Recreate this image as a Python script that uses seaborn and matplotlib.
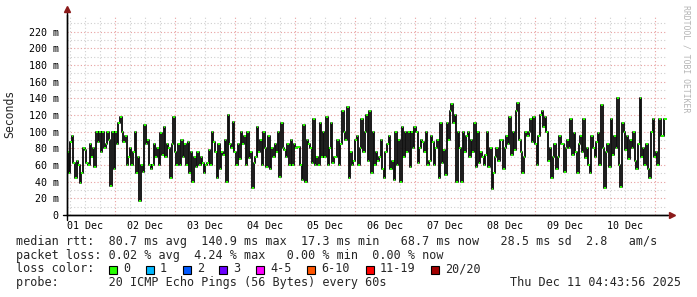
import numpy as np
import pandas as pd
import matplotlib
matplotlib.use("Agg")
import matplotlib.pyplot as plt
from matplotlib.patches import Rectangle
import seaborn as sns

# ---- data (median rtt in ms, evenly spaced over the 10 days) ----
rtt_part1 = [75, 50, 88, 95, 62, 45, 65, 60, 38, 50, 80, 78, 62, 60, 85, 70, 80, 58, 100, 88,
             100, 75, 100, 80, 85, 100, 90, 35, 100, 55, 100, 85, 110, 118, 100, 88, 95, 60, 70, 80,
             60, 75, 100, 50, 70, 17.3, 60, 52, 108, 85, 90, 60, 55, 60, 85, 70, 80, 60, 98, 72,
             105, 70, 85]
rtt_part2 = [80, 45, 85, 118, 75, 60, 85, 60, 90, 70, 85, 60, 88, 50, 75, 40, 70, 58, 75, 60,
             70, 62, 50, 60, 62, 78, 60, 100, 88, 75, 45, 85, 55, 75, 72, 90, 40, 120, 85, 80,
             112, 75, 60, 85, 67, 100, 85, 95, 60, 100, 68, 75, 32, 62, 70, 105, 75, 90, 60, 100,
             80, 58]
rtt_part3 = [95, 55, 80, 70, 85, 75, 100, 46, 110, 80, 78, 70, 85, 60, 90, 60, 85, 80, 82, 82,
             60, 42, 108, 40, 90, 85, 80, 62, 115, 60, 70, 60, 110, 70, 100, 70, 117, 60, 80, 110,
             62, 70, 70, 90, 60, 85, 125, 100, 90, 130, 45, 75, 60, 65, 90, 95, 60, 80, 115, 75,
             100, 120]
rtt_part4 = [65, 125, 50, 100, 60, 75, 65, 70, 90, 55, 45, 75, 85, 95, 55, 65, 42, 100, 60, 90,
             40, 105, 70, 100, 75, 100, 58, 100, 80, 105, 100, 62, 80, 90, 88, 75, 100, 60, 65, 95,
             88, 60, 80, 90, 45, 110, 62, 78, 48, 110, 90, 125, 133, 110, 120, 40, 100, 80, 40, 100,
             75, 95]
rtt_part5 = [100, 70, 90, 75, 110, 58, 100, 62, 75, 70, 60, 72, 100, 58, 80, 31, 50, 70, 80, 65,
             90, 90, 55, 80, 95, 85, 118, 72, 100, 78, 125, 134, 90, 75, 50, 70, 100, 95, 100, 115,
             88, 118, 85, 60, 95, 120, 125, 105, 118, 100, 65, 80, 45, 70, 85, 55, 70, 95, 85, 85,
             52, 80]
rtt_part6 = [90, 80, 115, 72, 98, 75, 50, 85, 95, 75, 115, 68, 80, 60, 50, 95, 80, 70, 88, 98,
             60, 132, 80, 33, 75, 85, 58, 115, 72, 95, 80, 140.9, 60, 34, 110, 100, 78, 95, 67, 90,
             80, 100, 65, 55, 85, 140, 70, 80, 60, 85, 55, 45, 100, 115, 70, 75, 60, 115, 95, 95,
             115, 115]
rtt = rtt_part1 + rtt_part2 + rtt_part3 + rtt_part4 + rtt_part5 + rtt_part6

day_labels = ["01 Dec", "02 Dec", "03 Dec", "04 Dec", "05 Dec",
              "06 Dec", "07 Dec", "08 Dec", "09 Dec", "10 Dec"]
y_ticks_ms = [0, 20, 40, 60, 80, 100, 120, 140, 160, 180, 200, 220]

loss_labels = ["0", "1", "2", "3", "4-5", "6-10", "11-19", "20/20"]
loss_colors = ["#26ff00", "#00b8ff", "#0059ff", "#6a00ff", "#ff00ff", "#ff5500", "#ff0000", "#a10000"]

line_rtt = "median rtt:  80.7 ms avg  140.9 ms max  17.3 ms min   68.7 ms now   28.5 ms sd  2.8   am/s"
line_loss = "packet loss: 0.02 % avg  4.24 % max   0.00 % min  0.00 % now"
line_probe = "probe:       20 ICMP Echo Pings (56 Bytes) every 60s"
stamp = "Thu Dec 11 04:43:56 2025"

# ---- figure ----
sns.set_style("white")
plt.rcParams["font.family"] = ["DejaVu Sans Mono"]
W, H = 697, 297
fig = plt.figure(figsize=(W / 100, H / 100), dpi=100)
fig.patch.set_facecolor("white")
ax = fig.add_axes([67 / W, 82 / H, 600 / W, 200 / H])

start_h = 4 + 43 / 60 + 56 / 3600  # hours after 01 Dec 00:00
end_h = start_h + 240
n = len(rtt)
dt = (end_h - start_h) / n
df = pd.DataFrame({"hours": start_h + np.arange(n) * dt, "rtt": rtt})

# grid
for h in range(0, 250, 6):
    if start_h <= h <= end_h:
        major = h % 24 == 0
        ax.axvline(h, color="#e8a0a0" if major else "#cfcfcf", ls=(0, (1, 2)), lw=0.8, zorder=0)
for v in range(10, 240, 10):
    major = v % 20 == 0
    ax.axhline(v, color="#e8a0a0" if major else "#cfcfcf", ls=(0, (1, 2)), lw=0.8, zorder=0)

sns.lineplot(data=df, x="hours", y="rtt", drawstyle="steps-post", estimator=None,
             color="#111111", lw=1.35, ax=ax, zorder=3)
ax.hlines(df["rtt"], df["hours"], df["hours"] + dt, color="#26ff00", lw=1.4, zorder=4)

ax.set_xlim(start_h, end_h)
ax.set_ylim(0, 240)
ax.set_xlabel("")
ax.set_ylabel("")
ax.set_xticks([12 + 24 * k for k in range(len(day_labels))])
ax.set_xticklabels(day_labels)
ax.set_yticks(y_ticks_ms)
ax.set_yticklabels([("%d m" % v) if v else "0" for v in y_ticks_ms])
ax.tick_params(axis="x", length=0, pad=4.5, labelsize=7.2, colors="black")
ax.tick_params(axis="y", length=3, width=0.8, color="#666666", pad=3, labelsize=7.2, labelcolor="black")

for s in ["top", "right"]:
    ax.spines[s].set_visible(False)
for s in ["left", "bottom"]:
    ax.spines[s].set_color("black")
    ax.spines[s].set_linewidth(1.0)
    ax.spines[s].set_zorder(5)

# axis extensions and arrows
ax.plot([-0.007, 1.006], [0, 0], color="black", lw=1, transform=ax.transAxes, clip_on=False, zorder=5)
ax.plot([0, 0], [-0.025, 1.025], color="black", lw=1, transform=ax.transAxes, clip_on=False, zorder=5)
ax.plot([1.008], [0], marker=">", ms=4, color="#8b1a1a", transform=ax.transAxes, clip_on=False, zorder=6)
ax.plot([0], [1.03], marker="^", ms=4, color="#8b1a1a", transform=ax.transAxes, clip_on=False, zorder=6)

# y label
fig.text(10 / W, 1 - 114 / H, "Seconds", rotation=90, ha="center", va="center", fontsize=8.3)

# watermark
fig.text(686 / W, 1 - 59 / H, "RRDTOOL / TOBI OETIKER", rotation=-90, ha="center", va="center",
         fontsize=5.9, color="#b4b4b4")

# legend lines
fs = 8.45
fig.text(16 / W, 1 - 241.5 / H, line_rtt, ha="left", va="center", fontsize=fs)
fig.text(16 / W, 1 - 255 / H, line_loss, ha="left", va="center", fontsize=fs)
fig.text(16 / W, 1 - 269 / H, "loss color:", ha="left", va="center", fontsize=fs)
fig.text(16 / W, 1 - 282.5 / H, line_probe, ha="left", va="center", fontsize=fs)
fig.text(681 / W, 1 - 282.5 / H, stamp, ha="right", va="center", fontsize=fs)

box_x = [109, 146, 183, 219, 256, 307, 366, 431]
for bx, lab, col in zip(box_x, loss_labels, loss_colors):
    fig.add_artist(Rectangle((bx / W, 1 - 273.5 / H), 8 / W, 8 / H, transform=fig.transFigure,
                             facecolor=col, edgecolor="black", lw=0.8))
    fig.text((bx + 14) / W, 1 - 269 / H, lab, ha="left", va="center", fontsize=fs)

fig.savefig("out.png", dpi=100, facecolor="white")
